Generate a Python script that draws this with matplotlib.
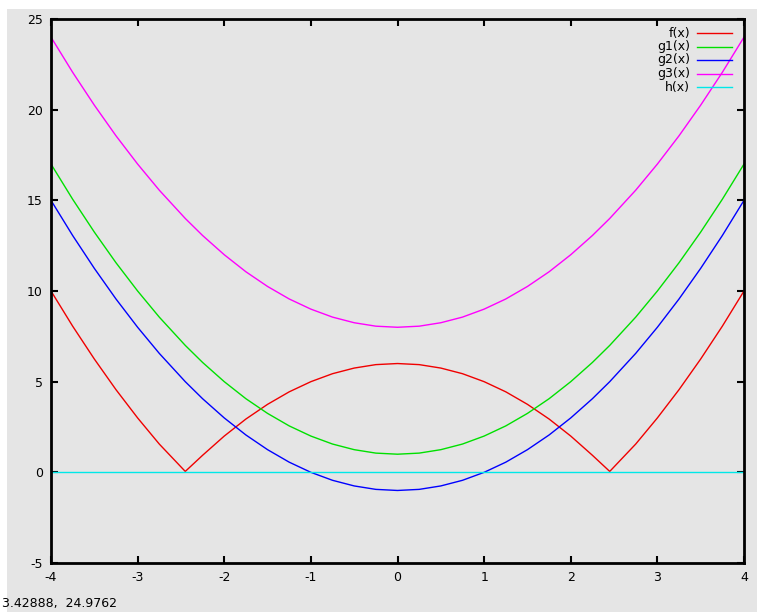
# gnuplot style curves: f, g1, g2, g3, h
from matplotlib import pyplot as plt
import numpy as np

plt.rcParams['axes.unicode_minus'] = False

# sample points (symmetric around 0)
x_half = [-4.0, -3.75, -3.5, -3.25, -3.0, -2.75, -2.45, -2.25, -2.0, -1.75, -1.5, -1.25, -1.0, -0.75, -0.5, -0.25, 0.0]
f_half = [10.0, 8.06, 6.25, 4.56, 3.0, 1.56, 0.05, 0.94, 2.0, 2.94, 3.75, 4.44, 5.0, 5.44, 5.75, 5.94, 6.0]
g1_half = [17.0, 15.06, 13.25, 11.56, 10.0, 8.56, 7.0, 6.06, 5.0, 4.06, 3.25, 2.56, 2.0, 1.56, 1.25, 1.06, 1.0]
g2_half = [15.0, 13.06, 11.25, 9.56, 8.0, 6.56, 5.0, 4.06, 3.0, 2.06, 1.25, 0.56, 0.0, -0.44, -0.75, -0.94, -1.0]
g3_half = [24.0, 22.06, 20.25, 18.56, 17.0, 15.56, 14.0, 13.06, 12.0, 11.06, 10.25, 9.56, 9.0, 8.56, 8.25, 8.06, 8.0]
h_half = [0.0] * len(x_half)

labels = ['f(x)', 'g1(x)', 'g2(x)', 'g3(x)', 'h(x)']
colors = ['#f00000', '#00e000', '#0000ff', '#ff00ff', '#00e8e8']

xticks = [-4, -3, -2, -1, 0, 1, 2, 3, 4]
yticks = [-5, 0, 5, 10, 15, 20, 25]
status = '3.42888,  24.9762'

def mirror(half):
  # right half is the mirror of the left half
  return list(half) + list(half[-2::-1])

x = [-v for v in x_half[:-1]]
x = list(x_half) + x[::-1]

series = [mirror(f_half), mirror(g1_half), mirror(g2_half), mirror(g3_half), mirror(h_half)]

bg = '#e5e5e5'
fig = plt.figure(figsize=(7.57, 6.12), dpi=100, facecolor='white')
fig.patches.append(plt.Rectangle((7/757, 0), 1, 1 - 9/612, transform=fig.transFigure,
                                 facecolor=bg, edgecolor='none', zorder=-10))
ax = fig.add_axes([51/757, 1 - 563/612, (744 - 51)/757, (563 - 19)/612])
ax.set_facecolor(bg)

for ys, c in zip(series, colors):
  ax.plot(x, ys, color=c, linewidth=1.0)

ax.set_xlim(-4, 4)
ax.set_ylim(-5, 25)
ax.set_xticks(xticks)
ax.set_yticks(yticks)
ax.tick_params(direction='in', length=5, width=1.5, top=True, right=True,
               labelsize=9, pad=6, colors='black')
for s in ax.spines.values():
  s.set_linewidth(2)

# legend drawn like gnuplot: right aligned text then a line sample
for i, (lab, c) in enumerate(zip(labels, colors)):
  yy = 1 - (14 + 13.5 * i) / 544
  ax.text(1 - 54/693, yy, lab, transform=ax.transAxes, ha='right', va='center', fontsize=9)
  ax.plot([1 - 47/693, 1 - 12/693], [yy, yy], transform=ax.transAxes, color=c, linewidth=1.0)

fig.text(2/757, 1 - 603/612, status, ha='left', va='center', fontsize=9)

fig.savefig('out.png', dpi=100, facecolor=fig.get_facecolor())
